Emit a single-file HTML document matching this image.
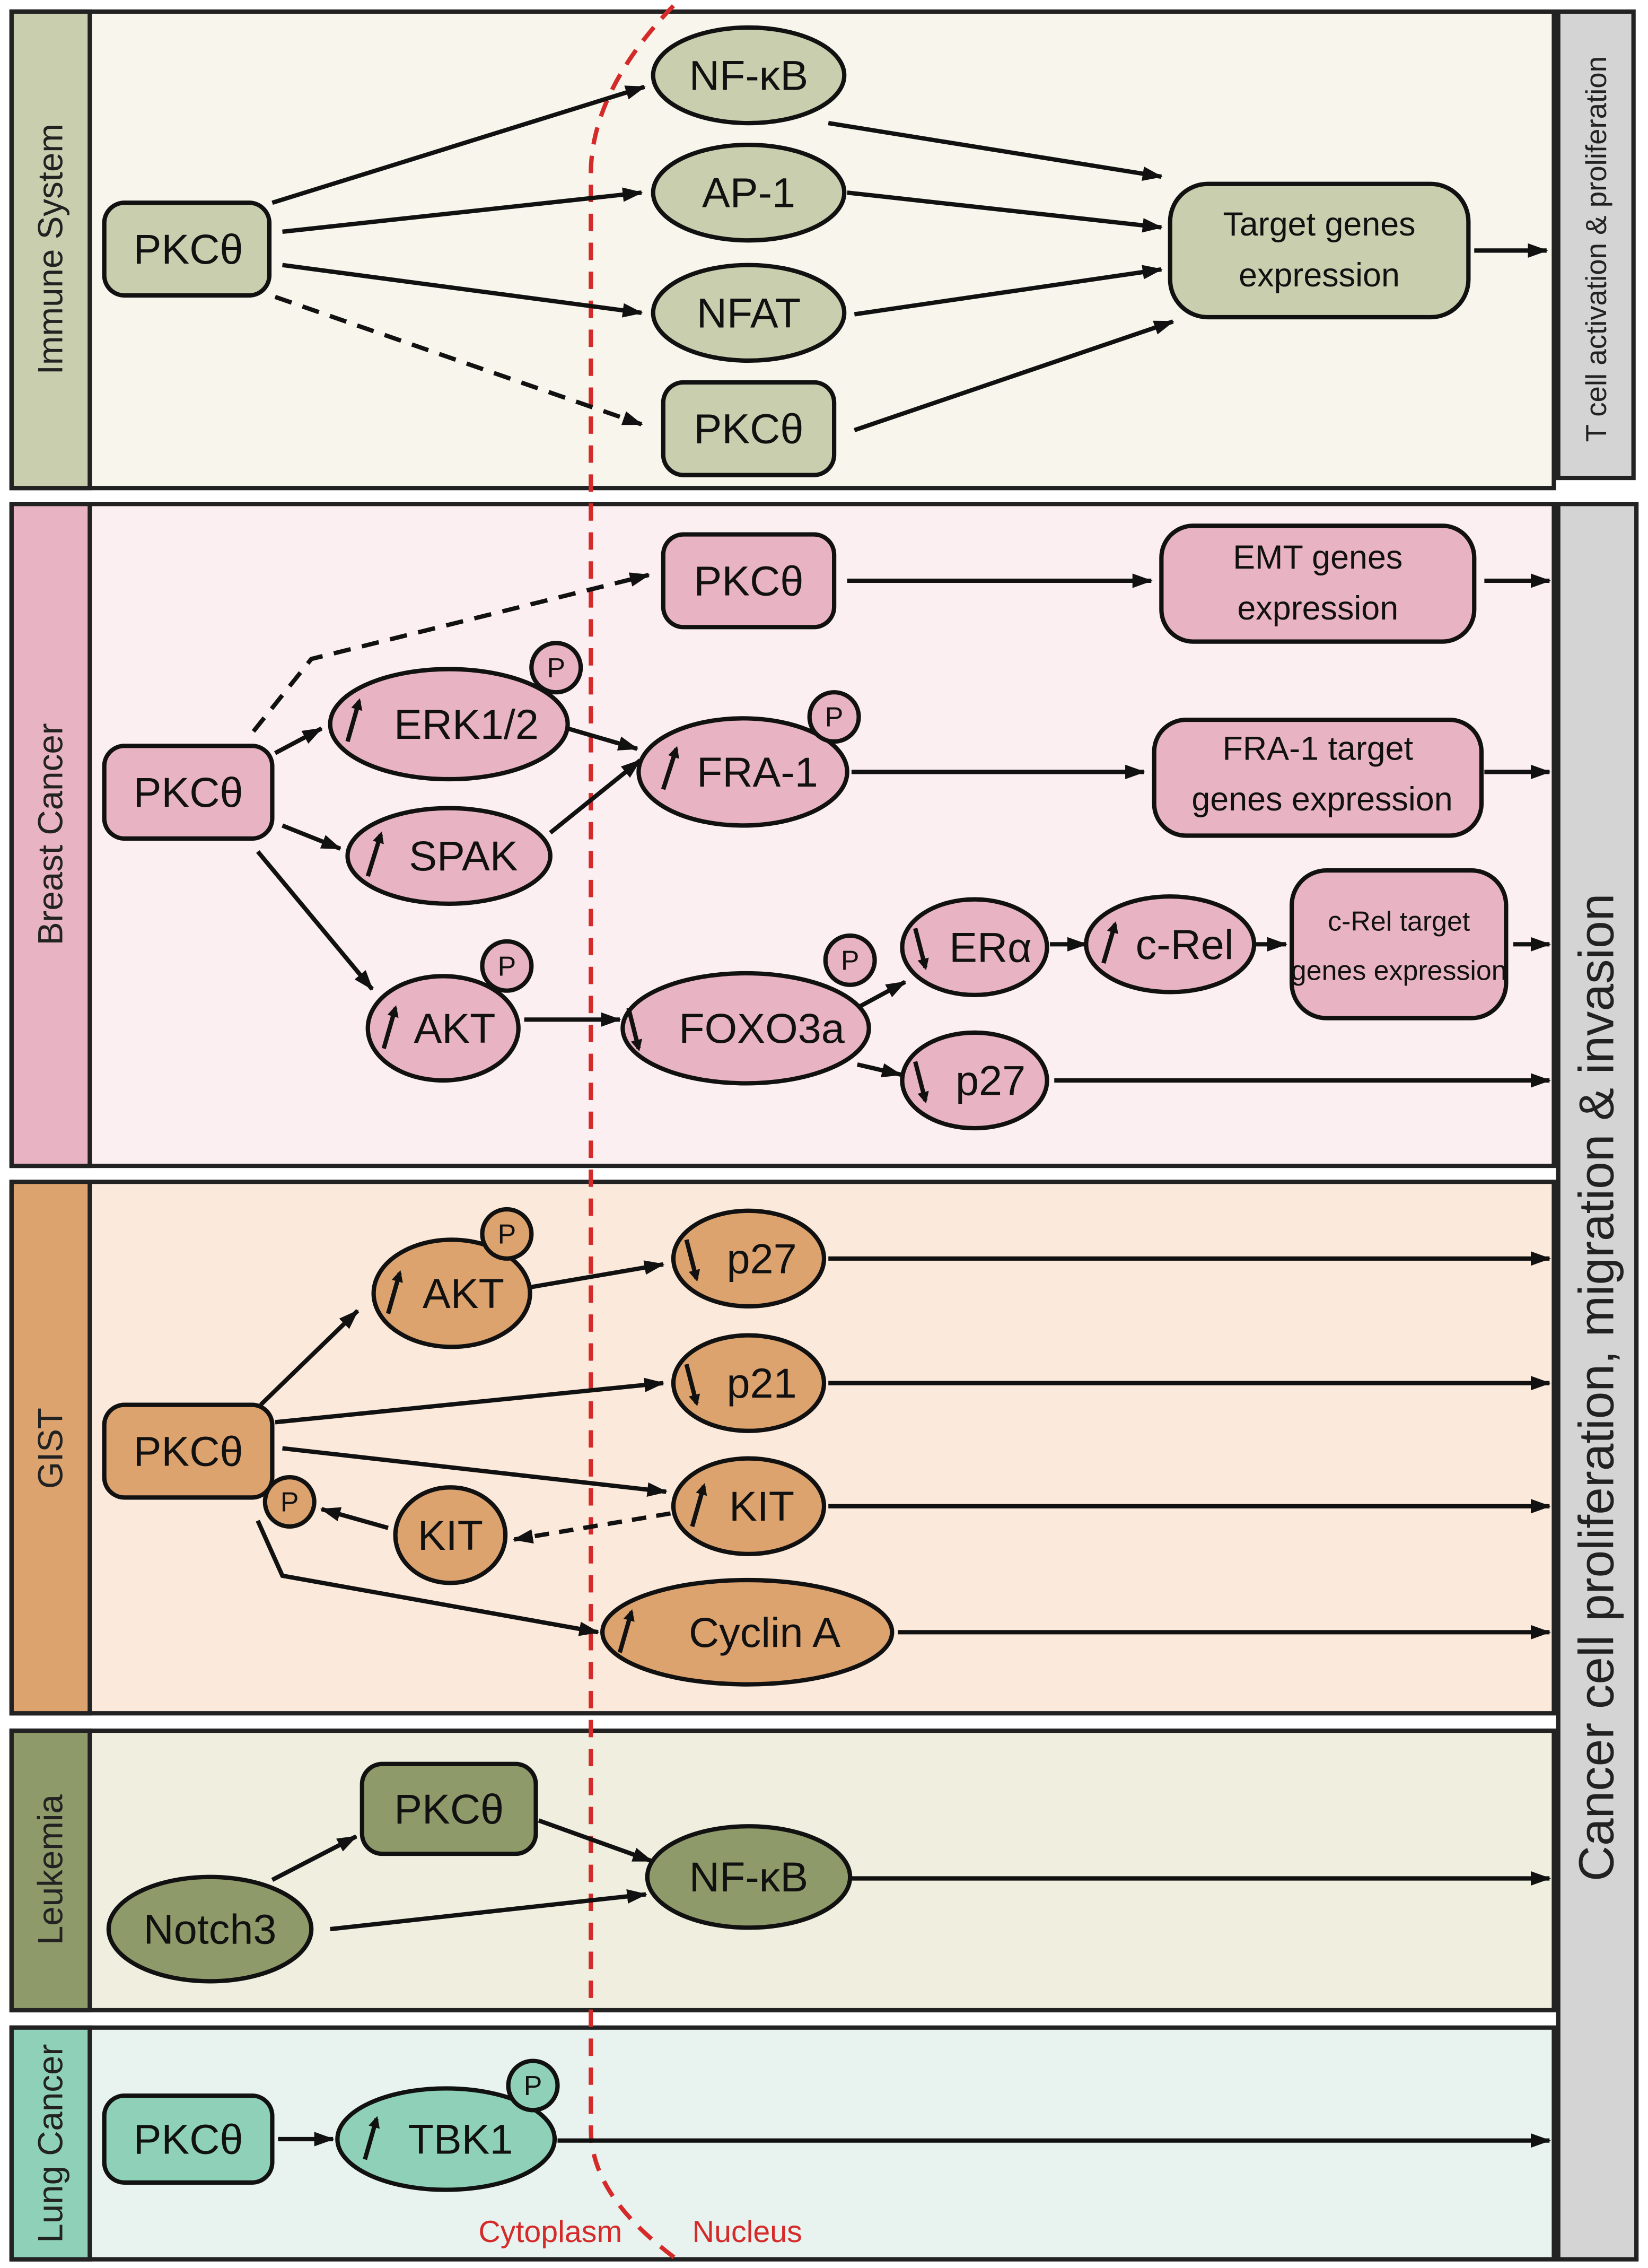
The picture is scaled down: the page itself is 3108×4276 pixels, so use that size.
<!DOCTYPE html>
<html><head><meta charset="utf-8"><style>html,body{margin:0;padding:0;background:#fff}svg{display:block}</style></head>
<body>
<svg xmlns="http://www.w3.org/2000/svg" width="3108" height="4276" viewBox="0 0 1138 1566" preserveAspectRatio="none" font-family="'Liberation Sans', sans-serif">
<defs>
<marker id="a" markerWidth="14" markerHeight="10" refX="13" refY="5" orient="auto" markerUnits="userSpaceOnUse"><path d="M0,0 L14,5 L0,10 z" fill="#111"/></marker>
<marker id="s" markerWidth="8" markerHeight="8" refX="6" refY="4" orient="auto" markerUnits="userSpaceOnUse"><path d="M0,0 L8,4 L0,8 z" fill="#111"/></marker>
</defs>
<rect width="1138" height="1566" fill="#fff"/>
<!-- panels -->
<g stroke="#222" stroke-width="3">
<rect x="8" y="8" width="1065" height="329" fill="#f7f5ec"/>
<rect x="8" y="8" width="54" height="329" fill="#c9cfae"/>
<rect x="8" y="348" width="1065" height="457" fill="#fbeff2"/>
<rect x="8" y="348" width="54" height="457" fill="#e8b4c4"/>
<rect x="8" y="816" width="1065" height="367" fill="#fbeadb"/>
<rect x="8" y="816" width="54" height="367" fill="#dca36f"/>
<rect x="8" y="1195" width="1065" height="193" fill="#efeedf"/>
<rect x="8" y="1195" width="54" height="193" fill="#8f9a6a"/>
<rect x="8" y="1400" width="1065" height="160" fill="#e8f2ee"/>
<rect x="8" y="1400" width="54" height="160" fill="#8fd1b8"/>
<rect x="1076" y="8" width="52" height="322" fill="#d4d4d4"/>
<rect x="1076" y="348" width="54" height="1212" fill="#d4d4d4"/>
</g>
<g font-size="24" fill="#222" text-anchor="middle">
<text transform="translate(43,172) rotate(-90)">Immune System</text>
<text transform="translate(43,576) rotate(-90)">Breast Cancer</text>
<text transform="translate(43,1000) rotate(-90)">GIST</text>
<text transform="translate(43,1291) rotate(-90)">Leukemia</text>
<text transform="translate(43,1480) rotate(-90)">Lung Cancer</text>
<text transform="translate(1109,172) rotate(-90)" font-size="20">T cell activation &amp; proliferation</text>
<text transform="translate(1114,958) rotate(-90)" font-size="34">Cancer cell proliferation, migration &amp; invasion</text>
</g>
<!-- red dashed -->
<path d="M465,4 C430,40 408,80 408,120 L408,1470 C408,1510 440,1540 470,1562" fill="none" stroke="#d42a2a" stroke-width="3" stroke-dasharray="12,8"/>
<text x="380" y="1548" font-size="21" fill="#d42a2a" text-anchor="middle">Cytoplasm</text>
<text x="516" y="1548" font-size="21" fill="#d42a2a" text-anchor="middle">Nucleus</text>

<!-- arrows -->
<g stroke="#111" stroke-width="3" fill="none" marker-end="url(#a)">
<line x1="188" y1="140" x2="445" y2="60"/>
<line x1="195" y1="160" x2="443" y2="133"/>
<line x1="195" y1="183" x2="443" y2="216"/>
<line x1="190" y1="205" x2="443" y2="293" stroke-dasharray="12,8"/>
<line x1="572" y1="85" x2="802" y2="122"/>
<line x1="585" y1="133" x2="802" y2="157"/>
<line x1="590" y1="217" x2="802" y2="186"/>
<line x1="590" y1="297" x2="810" y2="222"/>
<line x1="1018" y1="173" x2="1068" y2="173"/>

<path d="M175,505 L215,455 L448,397" stroke-dasharray="12,8"/>
<line x1="190" y1="520" x2="222" y2="503"/>
<line x1="195" y1="570" x2="235" y2="586"/>
<line x1="178" y1="588" x2="257" y2="683"/>
<line x1="392" y1="503" x2="440" y2="517"/>
<line x1="380" y1="575" x2="442" y2="525"/>
<line x1="362" y1="704" x2="428" y2="704"/>
<line x1="588" y1="698" x2="625" y2="678"/>
<line x1="592" y1="735" x2="622" y2="742"/>
<line x1="725" y1="652" x2="750" y2="652"/>
<line x1="866" y1="652" x2="888" y2="652"/>
<line x1="585" y1="401" x2="795" y2="401"/>
<line x1="588" y1="533" x2="790" y2="533"/>
<line x1="1025" y1="401" x2="1070" y2="401"/>
<line x1="1025" y1="533" x2="1070" y2="533"/>
<line x1="1045" y1="652" x2="1070" y2="652"/>
<line x1="728" y1="746" x2="1070" y2="746"/>

<line x1="180" y1="970" x2="247" y2="905"/>
<line x1="365" y1="889" x2="458" y2="873"/>
<line x1="190" y1="982" x2="458" y2="955"/>
<line x1="195" y1="1000" x2="460" y2="1030"/>
<line x1="463" y1="1045" x2="355" y2="1063" stroke-dasharray="10,7"/>
<line x1="268" y1="1055" x2="222" y2="1042"/>
<path d="M178,1050 L195,1088 L413,1127"/>
<line x1="572" y1="869" x2="1070" y2="869"/>
<line x1="572" y1="955" x2="1070" y2="955"/>
<line x1="572" y1="1040" x2="1070" y2="1040"/>
<line x1="620" y1="1127" x2="1070" y2="1127"/>

<line x1="188" y1="1298" x2="246" y2="1268"/>
<line x1="372" y1="1257" x2="450" y2="1285"/>
<line x1="228" y1="1332" x2="446" y2="1308"/>
<line x1="588" y1="1297" x2="1070" y2="1297"/>

<line x1="192" y1="1477" x2="230" y2="1477"/>
<line x1="385" y1="1478" x2="1070" y2="1478"/>
</g>

<!-- nodes -->
<g stroke="#111" stroke-width="3">
<g fill="#c9cfae">
<rect x="72" y="140" width="114" height="64" rx="14"/>
<ellipse cx="517" cy="52" rx="66" ry="33"/>
<ellipse cx="517" cy="133" rx="66" ry="33"/>
<ellipse cx="517" cy="216" rx="66" ry="33"/>
<rect x="458" y="264" width="118" height="64" rx="14"/>
<rect x="808" y="127" width="206" height="92" rx="26"/>
</g>
<g fill="#e8b4c4">
<rect x="72" y="515" width="116" height="64" rx="14"/>
<rect x="458" y="369" width="118" height="64" rx="14"/>
<rect x="802" y="363" width="216" height="80" rx="22"/>
<ellipse cx="310" cy="500" rx="82" ry="38"/>
<ellipse cx="513" cy="533" rx="72" ry="37"/>
<ellipse cx="310" cy="591" rx="70" ry="33"/>
<rect x="797" y="497" width="226" height="80" rx="22"/>
<ellipse cx="306" cy="710" rx="52" ry="36"/>
<ellipse cx="515" cy="710" rx="85" ry="38"/>
<ellipse cx="673" cy="654" rx="50" ry="33"/>
<ellipse cx="808" cy="652" rx="58" ry="33"/>
<rect x="892" y="601" width="148" height="102" rx="24"/>
<ellipse cx="673" cy="746" rx="50" ry="33"/>
<circle cx="384" cy="461" r="17"/>
<circle cx="576" cy="495" r="17"/>
<circle cx="350" cy="667" r="17"/>
<circle cx="587" cy="663" r="17"/>
</g>
<g fill="#dca36f">
<rect x="72" y="970" width="116" height="64" rx="14"/>
<ellipse cx="312" cy="893" rx="54" ry="37"/>
<ellipse cx="517" cy="869" rx="52" ry="33"/>
<ellipse cx="517" cy="955" rx="52" ry="33"/>
<ellipse cx="517" cy="1040" rx="52" ry="33"/>
<ellipse cx="311" cy="1060" rx="38" ry="33"/>
<ellipse cx="516" cy="1127" rx="100" ry="36"/>
<circle cx="350" cy="852" r="17"/>
<circle cx="200" cy="1037" r="17"/>
</g>
<g fill="#8f9a6a">
<rect x="250" y="1218" width="120" height="62" rx="14"/>
<ellipse cx="145" cy="1332" rx="70" ry="36"/>
<ellipse cx="517" cy="1296" rx="70" ry="35"/>
</g>
<g fill="#8fd1b8">
<rect x="72" y="1447" width="116" height="60" rx="14"/>
<ellipse cx="308" cy="1477" rx="75" ry="35"/>
<circle cx="368" cy="1440" r="17"/>
</g>
</g>

<!-- up/down arrows -->
<g stroke="#111" stroke-width="3" marker-end="url(#s)">
<line x1="240" y1="512" x2="248" y2="484"/>
<line x1="458" y1="545" x2="467" y2="517"/>
<line x1="254" y1="605" x2="263" y2="576"/>
<line x1="265" y1="724" x2="273" y2="696"/>
<line x1="434" y1="696" x2="441" y2="724"/>
<line x1="632" y1="641" x2="639" y2="668"/>
<line x1="762" y1="665" x2="770" y2="638"/>
<line x1="632" y1="733" x2="639" y2="760"/>
<line x1="268" y1="907" x2="276" y2="879"/>
<line x1="474" y1="856" x2="481" y2="883"/>
<line x1="474" y1="942" x2="481" y2="969"/>
<line x1="478" y1="1054" x2="486" y2="1026"/>
<line x1="428" y1="1141" x2="436" y2="1113"/>
<line x1="252" y1="1491" x2="260" y2="1463"/>
</g>

<!-- labels -->
<g font-size="29" fill="#111" text-anchor="middle" dominant-baseline="central">
<text x="130" y="172">PKCθ</text>
<text x="517" y="52">NF-κB</text>
<text x="517" y="133">AP-1</text>
<text x="517" y="216">NFAT</text>
<text x="517" y="296">PKCθ</text>
<text x="911" y="155" font-size="23">Target genes</text>
<text x="911" y="190" font-size="23">expression</text>

<text x="130" y="547">PKCθ</text>
<text x="517" y="401">PKCθ</text>
<text x="910" y="385" font-size="23">EMT genes</text>
<text x="910" y="420" font-size="23">expression</text>
<text x="322" y="500">ERK1/2</text>
<text x="523" y="533">FRA-1</text>
<text x="320" y="591">SPAK</text>
<text x="910" y="517" font-size="23">FRA-1 target</text>
<text x="913" y="552" font-size="23">genes expression</text>
<text x="314" y="710">AKT</text>
<text x="526" y="710">FOXO3a</text>
<text x="684" y="654">ERα</text>
<text x="818" y="652">c-Rel</text>
<text x="966" y="636" font-size="19">c-Rel target</text>
<text x="966" y="670" font-size="19">genes expression</text>
<text x="684" y="746">p27</text>

<text x="130" y="1002">PKCθ</text>
<text x="320" y="893">AKT</text>
<text x="526" y="869">p27</text>
<text x="526" y="955">p21</text>
<text x="526" y="1040">KIT</text>
<text x="311" y="1060">KIT</text>
<text x="528" y="1127">Cyclin A</text>

<text x="310" y="1249">PKCθ</text>
<text x="145" y="1332">Notch3</text>
<text x="517" y="1296">NF-κB</text>

<text x="130" y="1477">PKCθ</text>
<text x="318" y="1477">TBK1</text>

<g font-size="19">
<text x="384" y="461">P</text>
<text x="576" y="495">P</text>
<text x="350" y="667">P</text>
<text x="587" y="663">P</text>
<text x="350" y="852">P</text>
<text x="200" y="1037">P</text>
<text x="368" y="1440">P</text>
</g>
</g>
</svg>
</body></html>
